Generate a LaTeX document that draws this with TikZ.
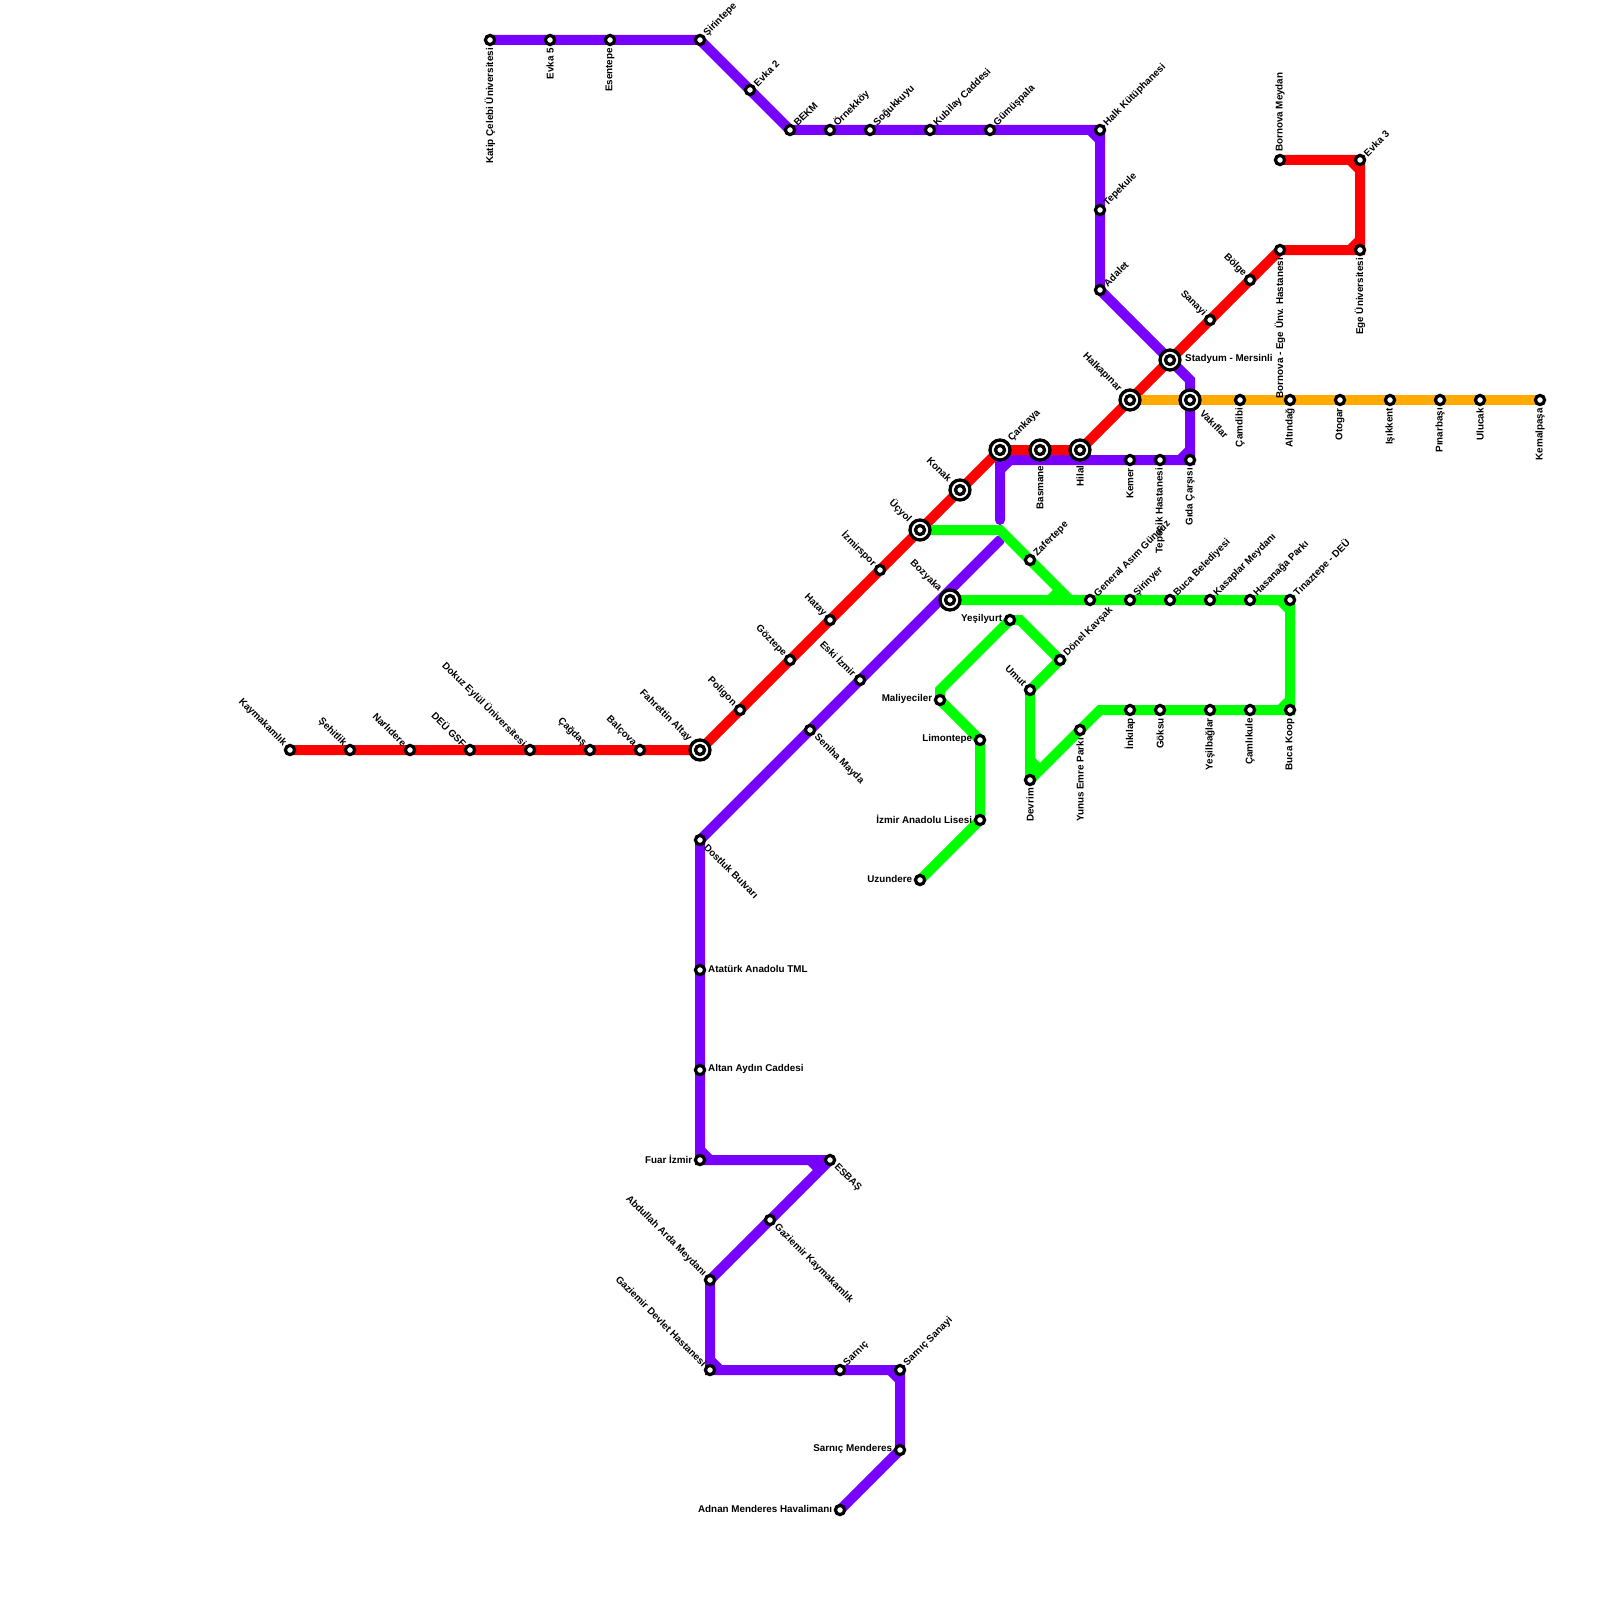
\documentclass[tikz,border=0pt]{standalone}
\usepackage{fontspec}
\usepackage{xcolor}
\setmainfont{Liberation Sans}
\usetikzlibrary{backgrounds}
\definecolor{lineRed}{HTML}{FF0000}
\definecolor{linePurple}{HTML}{7700FF}
\definecolor{lineGreen}{HTML}{00FF00}
\definecolor{lineOrange}{HTML}{FFAA00}
\tikzset{
  stn/.style={circle, draw=black, fill=white, line width=.32mm, inner sep=0pt, minimum size=.92mm},
  hub/.style={circle, draw=black, fill=white, line width=.33mm, inner sep=0pt, minimum size=2mm,
    path picture={\draw[line width=.33mm] (path picture bounding box.center) circle (.45mm);}},
  metro/.style={line width=1mm, line cap=round, line join=miter, miter limit=1.5},
  txt/.style={inner sep=0pt, font=\fontsize{2.8}{3.4}\selectfont\bfseries, text=black},
  txtne/.style={txt, rotate=45, anchor=west, xshift=#1},
  txtne/.default=.7mm,
  txtnw/.style={txt, rotate=-45, anchor=east, xshift=-#1},
  txtnw/.default=.68mm,
  txtse/.style={txt, rotate=-45, anchor=west, xshift=#1},
  txtse/.default=.75mm,
  txtdn/.style={txt, rotate=90, anchor=east, xshift=-#1},
  txtdn/.default=.75mm,
  txtup/.style={txt, rotate=90, anchor=west, xshift=#1},
  txtup/.default=.75mm,
  txtlf/.style={txt, anchor=east, xshift=-#1, yshift=.1mm},
  txtlf/.default=.72mm,
  txtrt/.style={txt, anchor=west, xshift=#1, yshift=.1mm},
  txtrt/.default=.75mm,
}
\begin{document}
\begin{tikzpicture}[x=1mm, y=-1mm]
\useasboundingbox (0,0) rectangle (160,160);
\node[stn] (kaymakamlik) at (29,75) {}; \node[txtnw] (kaymakamlikT) at (kaymakamlik) {Kaymakamlık};
\node[stn] (sehitlik) at (35,75) {}; \node[txtnw] (sehitlikT) at (sehitlik) {Şehitlik};
\node[stn] (narlidere) at (41,75) {}; \node[txtnw] (narlidereT) at (narlidere) {Narlıdere};
\node[stn] (deugsf) at (47,75) {}; \node[txtnw] (deugsfT) at (deugsf) {DEÜ GSF};
\node[stn] (dokuzeylul) at (53,75) {}; \node[txtnw] (dokuzeylulT) at (dokuzeylul) {Dokuz Eylül Üniversitesi};
\node[stn] (cagdas) at (59,75) {}; \node[txtnw] (cagdasT) at (cagdas) {Çağdaş};
\node[stn] (balcova) at (64,75) {}; \node[txtnw] (balcovaT) at (balcova) {Balçova};
\node[hub] (fahrettin) at (70,75) {}; \node[txtnw=1.35mm] (fahrettinT) at (fahrettin) {Fahrettin Altay};
\node[stn] (poligon) at (74,71) {}; \node[txtnw] (poligonT) at (poligon) {Poligon};
\node[stn] (goztepe) at (79,66) {}; \node[txtnw] (goztepeT) at (goztepe) {Göztepe};
\node[stn] (hatay) at (83,62) {}; \node[txtnw] (hatayT) at (hatay) {Hatay};
\node[stn] (izmirspor) at (88,57) {}; \node[txtnw] (izmirsporT) at (izmirspor) {İzmirspor};
\node[hub] (ucyol) at (92,53) {}; \node[txtnw=1.35mm] (ucyolT) at (ucyol) {Üçyol};
\node[hub] (konak) at (96,49) {}; \node[txtnw=1.35mm] (konakT) at (konak) {Konak};
\node[hub] (cankaya) at (100,45) {}; \node[txtne=1.35mm] (cankayaT) at (cankaya) {Çankaya};
\node[hub] (basmane) at (104,45) {}; \node[txtdn=1.5mm] (basmaneT) at (basmane) {Basmane};
\node[hub] (hilal) at (108,45) {}; \node[txtdn=1.5mm] (hilalT) at (hilal) {Hilal};
\node[hub] (halkapinar) at (113,40) {}; \node[txtnw=1.35mm] (halkapinarT) at (halkapinar) {Halkapınar};
\node[hub] (stadyum) at (117,36) {}; \node[txtrt=1.45mm] (stadyumT) at (stadyum) {Stadyum - Mersinli};
\node[stn] (sanayi) at (121,32) {}; \node[txtnw] (sanayiT) at (sanayi) {Sanayi};
\node[stn] (bolge) at (125,28) {}; \node[txtnw] (bolgeT) at (bolge) {Bölge};
\node[stn] (bornovaege) at (128,25) {}; \node[txtdn] (bornovaegeT) at (bornovaege) {Bornova - Ege Ünv. Hastanesi};
\node[stn] (egeuni) at (136,25) {}; \node[txtdn] (egeuniT) at (egeuni) {Ege Üniversitesi};
\node[stn] (evka3) at (136,16) {}; \node[txtne] (evka3T) at (evka3) {Evka 3};
\node[stn] (bornovameydan) at (128,16) {}; \node[txtup] (bornovameydanT) at (bornovameydan) {Bornova Meydan};
\node[stn] (katipcelebi) at (49,4) {}; \node[txtdn] (katipcelebiT) at (katipcelebi) {Katip Çelebi Üniversitesi};
\node[stn] (evka5) at (55,4) {}; \node[txtdn] (evka5T) at (evka5) {Evka 5};
\node[stn] (esentepe) at (61,4) {}; \node[txtdn] (esentepeT) at (esentepe) {Esentepe};
\node[stn] (sirintepe) at (70,4) {}; \node[txtne] (sirintepeT) at (sirintepe) {Şirintepe};
\node[stn] (evka2) at (75,9) {}; \node[txtne] (evka2T) at (evka2) {Evka 2};
\node[stn] (bekm) at (79,13) {}; \node[txtne] (bekmT) at (bekm) {BEKM};
\node[stn] (ornekkoy) at (83,13) {}; \node[txtne] (ornekkoyT) at (ornekkoy) {Örnekköy};
\node[stn] (sogukkuyu) at (87,13) {}; \node[txtne] (sogukkuyuT) at (sogukkuyu) {Soğukkuyu};
\node[stn] (kubilay) at (93,13) {}; \node[txtne] (kubilayT) at (kubilay) {Kubilay Caddesi};
\node[stn] (gumuspala) at (99,13) {}; \node[txtne] (gumuspalaT) at (gumuspala) {Gümüşpala};
\node[stn] (halkkutup) at (110,13) {}; \node[txtne] (halkkutupT) at (halkkutup) {Halk Kütüphanesi};
\node[stn] (tepekule) at (110,21) {}; \node[txtne] (tepekuleT) at (tepekule) {Tepekule};
\node[stn] (adalet) at (110,29) {}; \node[txtne] (adaletT) at (adalet) {Adalet};
\node[hub] (vakiflar) at (119,40) {}; \node[txtse=1.6mm] (vakiflarT) at (vakiflar) {Vakıflar};
\node[stn] (gida) at (119,46) {}; \node[txtdn] (gidaT) at (gida) {Gıda Çarşısı};
\node[stn] (tepecik) at (116,46) {}; \node[txtdn] (tepecikT) at (tepecik) {Tepecik Hastanesi};
\node[stn] (kemer) at (113,46) {}; \node[txtdn] (kemerT) at (kemer) {Kemer};
\node[stn] (eskiizmir) at (86,68) {}; \node[txtnw] (eskiizmirT) at (eskiizmir) {Eski İzmir};
\node[stn] (seniha) at (81,73) {}; \node[txtse] (senihaT) at (seniha) {Seniha Mayda};
\node[stn] (dostluk) at (70,84) {}; \node[txtse] (dostlukT) at (dostluk) {Dostluk Bulvarı};
\node[stn] (ataturk) at (70,97) {}; \node[txtrt] (ataturkT) at (ataturk) {Atatürk Anadolu TML};
\node[stn] (altan) at (70,107) {}; \node[txtrt] (altanT) at (altan) {Altan Aydın Caddesi};
\node[stn] (fuar) at (70,116) {}; \node[txtlf] (fuarT) at (fuar) {Fuar İzmir};
\node[stn] (esbas) at (83,116) {}; \node[txtse] (esbasT) at (esbas) {ESBAŞ};
\node[stn] (gazikaym) at (77,122) {}; \node[txtse] (gazikaymT) at (gazikaym) {Gaziemir Kaymakamlık};
\node[stn] (abdullah) at (71,128) {}; \node[txtnw] (abdullahT) at (abdullah) {Abdullah Arda Meydanı};
\node[stn] (gazidevlet) at (71,137) {}; \node[txtnw] (gazidevletT) at (gazidevlet) {Gaziemir Devlet Hastanesi};
\node[stn] (sarnic) at (84,137) {}; \node[txtne] (sarnicT) at (sarnic) {Sarnıç};
\node[stn] (sarnicsanayi) at (90,137) {}; \node[txtne] (sarnicsanayiT) at (sarnicsanayi) {Sarnıç Sanayi};
\node[stn] (sarnicmend) at (90,145) {}; \node[txtlf] (sarnicmendT) at (sarnicmend) {Sarnıç Menderes};
\node[stn] (adnan) at (84,151) {}; \node[txtlf] (adnanT) at (adnan) {Adnan Menderes Havalimanı};
\node[hub] (bozyaka) at (95,60) {}; \node[txtnw=1.35mm] (bozyakaT) at (bozyaka) {Bozyaka};
\node[stn] (zafertepe) at (103,56) {}; \node[txtne] (zafertepeT) at (zafertepe) {Zafertepe};
\node[stn] (general) at (109,60) {}; \node[txtne] (generalT) at (general) {General Asım Gündüz};
\node[stn] (sirinyer) at (113,60) {}; \node[txtne] (sirinyerT) at (sirinyer) {Şirinyer};
\node[stn] (bucabel) at (117,60) {}; \node[txtne] (bucabelT) at (bucabel) {Buca Belediyesi};
\node[stn] (kasaplar) at (121,60) {}; \node[txtne] (kasaplarT) at (kasaplar) {Kasaplar Meydanı};
\node[stn] (hasanaga) at (125,60) {}; \node[txtne] (hasanagaT) at (hasanaga) {Hasanağa Parkı};
\node[stn] (tinaztepe) at (129,60) {}; \node[txtne] (tinaztepeT) at (tinaztepe) {Tınaztepe - DEÜ};
\node[stn] (bucakoop) at (129,71) {}; \node[txtdn] (bucakoopT) at (bucakoop) {Buca Koop};
\node[stn] (camlikule) at (125,71) {}; \node[txtdn] (camlikuleT) at (camlikule) {Çamlıkule};
\node[stn] (yesilbaglar) at (121,71) {}; \node[txtdn] (yesilbaglarT) at (yesilbaglar) {Yeşilbağlar};
\node[stn] (goksu) at (116,71) {}; \node[txtdn] (goksuT) at (goksu) {Göksu};
\node[stn] (inkilap) at (113,71) {}; \node[txtdn] (inkilapT) at (inkilap) {İnkılap};
\node[stn] (yunusemre) at (108,73) {}; \node[txtdn] (yunusemreT) at (yunusemre) {Yunus Emre Parkı};
\node[stn] (devrim) at (103,78) {}; \node[txtdn] (devrimT) at (devrim) {Devrim};
\node[stn] (umut) at (103,69) {}; \node[txtnw] (umutT) at (umut) {Umut};
\node[stn] (donel) at (106,66) {}; \node[txtne] (donelT) at (donel) {Dönel Kavşak};
\node[stn] (yesilyurt) at (101,62) {}; \node[txtlf] (yesilyurtT) at (yesilyurt) {Yeşilyurt};
\node[stn] (maliyeciler) at (94,70) {}; \node[txtlf] (maliyecilerT) at (maliyeciler) {Maliyeciler};
\node[stn] (limontepe) at (98,74) {}; \node[txtlf] (limontepeT) at (limontepe) {Limontepe};
\node[stn] (anadolu) at (98,82) {}; \node[txtlf] (anadoluT) at (anadolu) {İzmir Anadolu Lisesi};
\node[stn] (uzundere) at (92,88) {}; \node[txtlf] (uzundereT) at (uzundere) {Uzundere};
\node[stn] (camdibi) at (124,40) {}; \node[txtdn] (camdibiT) at (camdibi) {Çamdibi};
\node[stn] (altindag) at (129,40) {}; \node[txtdn] (altindagT) at (altindag) {Altındağ};
\node[stn] (otogar) at (134,40) {}; \node[txtdn] (otogarT) at (otogar) {Otogar};
\node[stn] (isikkent) at (139,40) {}; \node[txtdn] (isikkentT) at (isikkent) {Işıkkent};
\node[stn] (pinarbasi) at (144,40) {}; \node[txtdn] (pinarbasiT) at (pinarbasi) {Pınarbaşı};
\node[stn] (ulucak) at (148,40) {}; \node[txtdn] (ulucakT) at (ulucak) {Ulucak};
\node[stn] (kemalpasa) at (154,40) {}; \node[txtdn] (kemalpasaT) at (kemalpasa) {Kemalpaşa};
\coordinate (purpleNorth) at (119,38);
\coordinate (purpleBendA) at (118,37);
\coordinate (purpleElbow) at (100,46);
\coordinate (purpleStub) at (100,52);
\coordinate (purpleTip) at (100,54);
\coordinate (sarnicA) at (71,136);
\coordinate (sarnicB) at (72,137);
\coordinate (sanayiA) at (89,137);
\coordinate (sanayiB) at (90,138);
\coordinate (fuarA) at (70,115);
\coordinate (fuarB) at (71,116);
\coordinate (esbasA) at (81,116);
\coordinate (esbasB) at (82,117);
\coordinate (halkA) at (109,13);
\coordinate (halkB) at (110,14);
\coordinate (gidaA) at (118,46);
\coordinate (gidaB) at (119,45);
\coordinate (elbowA) at (100,47);
\coordinate (elbowB) at (101,46);
\coordinate (egeA) at (135,25);
\coordinate (egeB) at (136,24);
\coordinate (evkaA) at (135,16);
\coordinate (evkaB) at (136,17);
\coordinate (greenTurn) at (100,53);
\coordinate (greenMerge) at (107,60);
\coordinate (mergeA) at (105,60);
\coordinate (mergeB) at (106,59);
\coordinate (tinazA) at (128,60);
\coordinate (tinazB) at (129,61);
\coordinate (koopA) at (128,71);
\coordinate (koopB) at (129,70);
\coordinate (greenKnee) at (110,71);
\coordinate (devrimA) at (103,76);
\coordinate (devrimB) at (104,77);
\coordinate (yesilKnee) at (102,62);
\coordinate (maliKnee) at (94,69);
\begin{pgfonlayer}{background}
\draw[metro, linePurple] (katipcelebi.center) -- (sirintepe.center) -- (bekm.center) -- (halkkutup.center) -- (adalet.center) -- (stadyum.center) -- (purpleBendA) -- (purpleNorth) -- (gida.center) -- (purpleElbow) -- (purpleStub);
\draw[metro, linePurple] (purpleTip) -- (dostluk.center) -- (fuar.center) -- (esbas.center) -- (abdullah.center) -- (gazidevlet.center) -- (sarnicsanayi.center) -- (sarnicmend.center) -- (adnan.center);
\draw[metro, linePurple] (sarnicA) -- (sarnicB);
\draw[metro, linePurple] (sanayiA) -- (sanayiB);
\draw[metro, linePurple] (fuarA) -- (fuarB);
\draw[metro, linePurple] (esbasA) -- (esbasB);
\draw[metro, linePurple] (halkA) -- (halkB);
\draw[metro, linePurple] (gidaA) -- (gidaB);
\draw[metro, linePurple] (elbowA) -- (elbowB);
\draw[metro, lineRed] (kaymakamlik.center) -- (fahrettin.center) -- (cankaya.center) -- (hilal.center) -- (bornovaege.center) -- (egeuni.center) -- (evka3.center) -- (bornovameydan.center);
\draw[metro, lineRed] (egeA) -- (egeB);
\draw[metro, lineRed] (evkaA) -- (evkaB);
\draw[metro, lineGreen] (ucyol.center) -- (greenTurn) -- (greenMerge);
\draw[metro, lineGreen] (bozyaka.center) -- (tinaztepe.center) -- (bucakoop.center) -- (greenKnee) -- (devrim.center) -- (umut.center) -- (donel.center) -- (yesilKnee) -- (yesilyurt.center) -- (maliKnee) -- (maliyeciler.center) -- (limontepe.center) -- (anadolu.center) -- (uzundere.center);
\draw[metro, lineGreen] (mergeA) -- (mergeB);
\draw[metro, lineGreen] (tinazA) -- (tinazB);
\draw[metro, lineGreen] (koopA) -- (koopB);
\draw[metro, lineGreen] (devrimA) -- (devrimB);
\draw[metro, lineOrange] (halkapinar.center) -- (kemalpasa.center);
\end{pgfonlayer}
\end{tikzpicture}
\end{document}
